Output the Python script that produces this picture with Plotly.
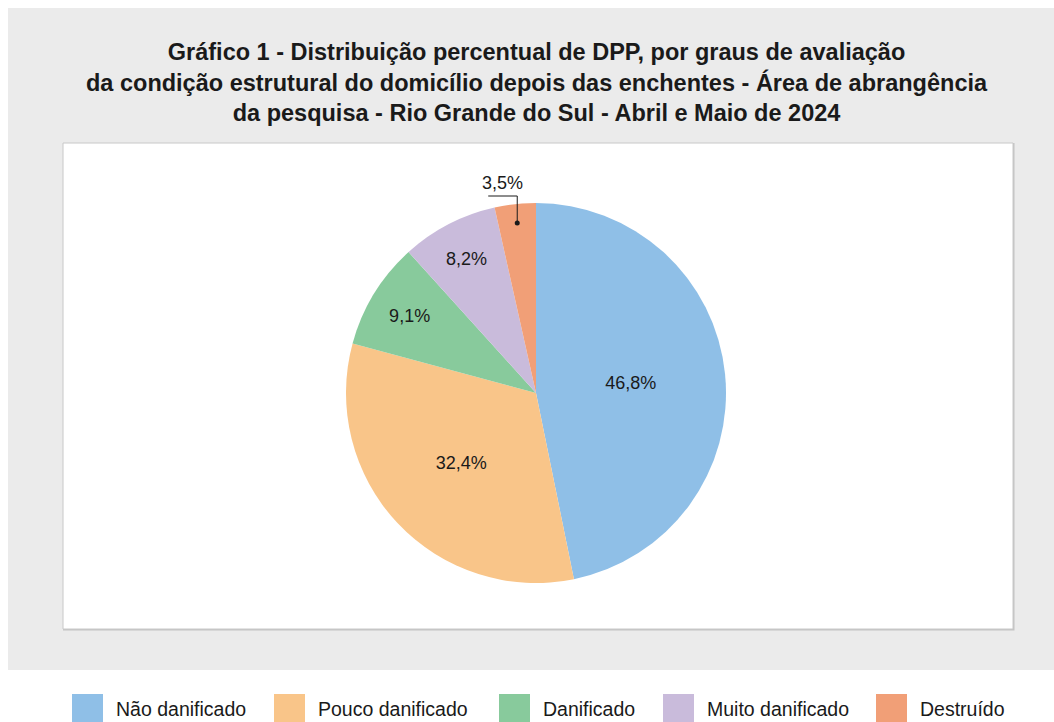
import math
import plotly.graph_objects as go

# ---------------- data ----------------
categories = ["Não danificado", "Pouco danificado", "Danificado", "Muito danificado", "Destruído"]
values = [46.8, 32.4, 9.1, 8.2, 3.5]
colors = ["#8fbfe7", "#f9c589", "#88ca9c", "#c9bbdb", "#f19f77"]
title_lines = [
    "Gráfico 1 - Distribuição percentual de DPP, por graus de avaliação",
    "da condição estrutural do domicílio depois das enchentes - Área de abrangência",
    "da pesquisa - Rio Grande do Sul - Abril e Maio de 2024",
]
outside_label_index = 4  # small slice labelled outside with a leader line

# ---------------- layout helpers ----------------
W, H = 1054, 722
FONT = "Liberation Sans"
TXT = "#1a1a1a"


def px(x):
    """screen x (pixels) -> paper fraction"""
    return x / W


def py(y):
    """screen y (pixels) -> paper fraction"""
    return 1 - y / H


def fmt(v):
    return f"{v:.1f}%".replace(".", ",")


cx, cy, R = 536, 393, 190

texts = [fmt(v) if i != outside_label_index else "" for i, v in enumerate(values)]

fig = go.Figure()
fig.add_trace(go.Pie(
    labels=categories,
    values=values,
    sort=False,
    direction="clockwise",
    rotation=0,
    marker=dict(colors=colors, line=dict(width=0)),
    text=texts,
    textinfo="text",
    textposition="inside",
    insidetextorientation="horizontal",
    textfont=dict(family=FONT, size=18, color=TXT),
    showlegend=False,
    hoverinfo="label+percent",
    domain=dict(x=[px(cx - R), px(cx + R)], y=[py(cy + R), py(cy - R)]),
))

shapes = []
# gray panel
shapes.append(dict(type="rect", xref="paper", yref="paper", layer="below",
                   x0=px(8), x1=px(1054), y0=py(670), y1=py(8),
                   fillcolor="#ebebeb", line=dict(width=0)))
# white plot box with slight shadow
shapes.append(dict(type="rect", xref="paper", yref="paper", layer="below",
                   x0=px(63), x1=px(1014.5), y0=py(630.5), y1=py(143),
                   fillcolor="#c4c4c4", line=dict(width=0)))
shapes.append(dict(type="rect", xref="paper", yref="paper", layer="below",
                   x0=px(63), x1=px(1013), y0=py(629), y1=py(143),
                   fillcolor="#ffffff", line=dict(color="#c8c8c8", width=1)))

annotations = []
# title
annotations.append(dict(
    text="<b>" + "<br>".join(title_lines) + "</b>", xref="paper", yref="paper",
    x=px(537), y=py(37), xanchor="center", yanchor="top", showarrow=False,
    align="center", font=dict(family=FONT, size=23.5, color=TXT),
))

# leader line for the small slice
total = sum(values)
cum = sum(values[:outside_label_index])
theta = 2 * math.pi * (cum + values[outside_label_index] / 2) / total
dot_x = cx + 0.9 * R * math.sin(theta)
dot_y = cy - 0.9 * R * math.cos(theta)
elbow_y = cy - R - 7
end_x = dot_x - 29
shapes.append(dict(type="path", xref="paper", yref="paper", layer="above",
                   path=f"M {px(dot_x)},{py(dot_y)} L {px(dot_x)},{py(elbow_y)} L {px(end_x)},{py(elbow_y)}",
                   line=dict(color=TXT, width=1)))
shapes.append(dict(type="circle", xref="paper", yref="paper", layer="above",
                   x0=px(dot_x - 2.5), x1=px(dot_x + 2.5), y0=py(dot_y + 2.5), y1=py(dot_y - 2.5),
                   fillcolor=TXT, line=dict(width=0)))
annotations.append(dict(
    text=fmt(values[outside_label_index]), xref="paper", yref="paper",
    x=px(end_x + 14), y=py(elbow_y - 1), xanchor="center", yanchor="bottom",
    showarrow=False, font=dict(family=FONT, size=18, color=TXT),
))

# manual legend
legend_x = [72, 274, 499, 663, 876]
for lx, cat, col in zip(legend_x, categories, colors):
    shapes.append(dict(type="rect", xref="paper", yref="paper",
                       x0=px(lx), x1=px(lx + 31), y0=py(722), y1=py(694),
                       fillcolor=col, line=dict(width=0)))
    annotations.append(dict(
        text=cat, xref="paper", yref="paper", x=px(lx + 42), y=py(708.5),
        xanchor="left", yanchor="middle", showarrow=False,
        font=dict(family=FONT, size=19.5, color=TXT),
    ))

fig.update_layout(
    width=W, height=H,
    margin=dict(l=0, r=0, t=0, b=0),
    paper_bgcolor="#ffffff",
    plot_bgcolor="#ffffff",
    shapes=shapes,
    annotations=annotations,
    showlegend=False,
)

fig.write_html(
    "out.html",
    config={"displayModeBar": False},
    post_script="document.body.style.margin='0';document.body.style.overflow='hidden';",
)
